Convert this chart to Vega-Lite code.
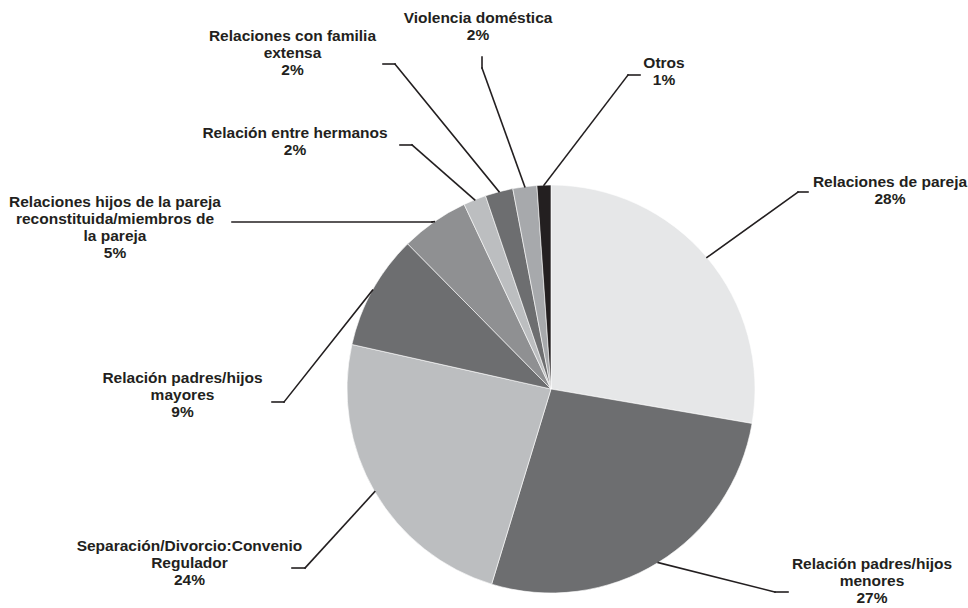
{
  "$schema": "https://vega.github.io/schema/vega-lite/v6.json",
  "width": 834,
  "height": 438,
  "autosize": {"type": "none"},
  "padding": {"left": 134, "top": 170, "right": 0, "bottom": 0},
  "background": "#ffffff",
  "view": {"stroke": null},
  "config": {"font": "Liberation Sans"},
  "data": {
    "values": [
      {"categoria": "Relaciones de pareja", "pct": 27.7},
      {"categoria": "Relación padres/hijos\nmenores", "pct": 27.0},
      {"categoria": "Separación/Divorcio:Convenio\nRegulador", "pct": 23.8},
      {"categoria": "Relación padres/hijos\nmayores", "pct": 9.1},
      {"categoria": "Relaciones hijos de la pareja\nreconstituida/miembros de\nla pareja", "pct": 5.4},
      {"categoria": "Relación entre hermanos", "pct": 1.8},
      {"categoria": "Relaciones con familia\nextensa", "pct": 2.2},
      {"categoria": "Violencia doméstica", "pct": 1.9},
      {"categoria": "Otros", "pct": 1.1}
    ]
  },
  "transform": [
    {"window": [{"op": "sum", "field": "pct", "as": "acum"}, {"op": "row_number", "as": "n"}]},
    {"joinaggregate": [{"op": "sum", "field": "pct", "as": "total"}]},
    {"calculate": "(datum.acum - datum.pct / 2) / datum.total", "as": "frac"},
    {"calculate": "sin(2 * PI * datum.frac)", "as": "x0"},
    {"calculate": "cos(2 * PI * datum.frac)", "as": "y0"},
    {"calculate": "datum.categoria + '\\n' + format(datum.pct, '.0f') + '%'", "as": "texto"},
    {"calculate": "[1.6618, 1.5735, -1.7721, -1.8064, -2.1373, -1.2549, -1.2672, -0.3578, 0.5539][datum.n - 1]", "as": "lx"},
    {"calculate": "[1.0490, -0.8235, -0.7353, 0.0882, 0.9510, 1.2892, 1.7647, 1.8529, 1.6324][datum.n - 1]", "as": "ly"},
    {"calculate": "[1.2108, 1.0980, -1.2059, -1.3088, -0.5833, -0.6814, -0.7647, -0.3382, 0.3775][datum.n - 1]", "as": "ex"},
    {"calculate": "[0.9657, -0.9951, -0.8775, -0.0637, 0.8186, 1.1961, 1.5931, 1.5735, 1.5392][datum.n - 1]", "as": "ey"},
    {"calculate": "[1.2598, 1.1618, -1.2696, -1.3676, -1.5637, -0.7402, -0.8235, -0.3382, 0.4363][datum.n - 1]", "as": "tx"},
    {"calculate": "[0.9657, -0.9951, -0.8775, -0.0637, 0.8186, 1.1961, 1.5931, 1.6275, 1.5392][datum.n - 1]", "as": "ty"}
  ],
  "layer": [
    {
      "mark": {"type": "arc", "radius": 204, "stroke": "#ffffff", "strokeWidth": 0.6},
      "encoding": {
        "theta": {"field": "pct", "type": "quantitative", "stack": true},
        "order": {"field": "acum", "type": "quantitative"},
        "color": {
          "field": "categoria",
          "type": "nominal",
          "sort": null,
          "legend": null,
          "scale": {"range": ["#e6e7e8", "#6d6e70", "#bcbec0", "#6d6e70", "#8f9092", "#bcbec0", "#6d6e70", "#a7a9ac", "#231f20"]}
        }
      }
    },
    {
      "mark": {"type": "rule", "color": "#231f20", "strokeWidth": 1.6, "strokeCap": "square"},
      "encoding": {
        "x": {"field": "x0", "type": "quantitative", "axis": null, "scale": {"domain": [-2.044118, 2.044118], "nice": false, "zero": false}},
        "y": {"field": "y0", "type": "quantitative", "axis": null, "scale": {"domain": [-1.073529, 1.073529], "nice": false, "zero": false}},
        "x2": {"field": "ex"},
        "y2": {"field": "ey"}
      }
    },
    {
      "mark": {"type": "rule", "color": "#231f20", "strokeWidth": 1.6, "strokeCap": "square"},
      "encoding": {
        "x": {"field": "ex", "type": "quantitative", "axis": null, "scale": {"domain": [-2.044118, 2.044118], "nice": false, "zero": false}},
        "y": {"field": "ey", "type": "quantitative", "axis": null, "scale": {"domain": [-1.073529, 1.073529], "nice": false, "zero": false}},
        "x2": {"field": "tx"},
        "y2": {"field": "ty"}
      }
    },
    {
      "mark": {
        "type": "text",
        "align": "center",
        "baseline": "top",
        "lineBreak": "\n",
        "lineHeight": 17,
        "font": "Liberation Sans",
        "fontSize": 15.5,
        "fontWeight": "bold",
        "color": "#231f20"
      },
      "encoding": {
        "x": {"field": "lx", "type": "quantitative", "axis": null, "scale": {"domain": [-2.044118, 2.044118], "nice": false, "zero": false}},
        "y": {"field": "ly", "type": "quantitative", "axis": null, "scale": {"domain": [-1.073529, 1.073529], "nice": false, "zero": false}},
        "text": {"field": "texto"}
      }
    }
  ]
}
